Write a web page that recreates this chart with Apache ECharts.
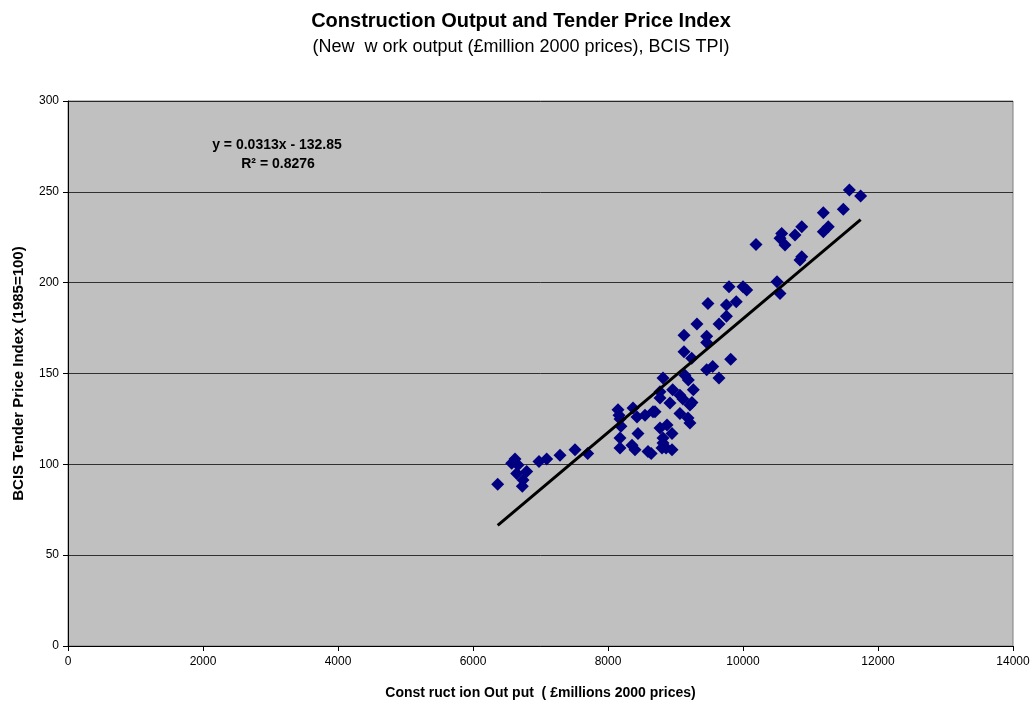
<!DOCTYPE html>
<html>
<head>
<meta charset="utf-8">
<script src="https://cdn.jsdelivr.net/npm/echarts@6/dist/echarts.min.js"></script>
<style>
html, body { margin: 0; padding: 0; background: #fff; }
#chart { width: 1035px; height: 704px; }
</style>
</head>
<body>
<div id="chart"></div>
<script>
// construction output (£m 2000 prices) vs BCIS TPI
const outputX = [
	6366, 6573, 6622, 6667, 6647, 6795, 6741, 6731, 6978, 7092, 7289, 7511, 7699,
	8148, 8163, 8178, 8192, 8178, 8178, 8356, 8400, 8370, 8430, 8444, 8548, 8593,
	8667, 8696, 8770, 8770, 8770, 8800, 8815, 8815, 8874, 8918, 8948, 8948, 8958,
	9066, 9066, 9140, 9190, 9214, 9244, 9185, 9214, 9264, 8815, 8640, 8860, 9110,
	9126, 9126, 9240, 9318, 9462, 9462, 9462, 9551, 9644, 9645, 9755, 9481, 9755,
	9900, 9818, 9793, 10000, 10055,
	10193, 10504, 10548, 10548, 10573, 10622, 10770, 10870, 10844, 10870, 11190,
	11263, 11190, 11486, 11576, 11743
];
const tenderY = [
	89, 100.6, 103, 99.6, 95, 96, 91.4, 88, 101.5, 103, 105, 108, 106,
	130, 127, 125, 121, 114.5, 109, 110.5, 108, 131, 126, 117, 127, 107,
	129, 129, 140, 136.5, 120, 109, 111.7, 114.5, 121.7, 133.8, 117, 108, 141,
	138, 128, 149, 146.4, 132.7, 134, 125.5, 122.8, 141, 147.5, 106, 109, 136,
	171, 162, 158.4, 177.3, 170.5, 167, 152, 153.8, 147.5, 177.3, 181.5, 188.6, 187.7,
	189.5, 157.8, 197.8, 197.8, 196,
	221, 200.5, 194, 224.4, 227, 220.7, 226.3, 230.8, 212.5, 214.3, 228,
	230.8, 238.5, 240.4, 251, 247.7
];
const xTicks = [0, 2000, 4000, 6000, 8000, 10000, 12000, 14000];
const yTicks = [0, 50, 100, 150, 200, 250, 300];

// linear trend shown on the chart
const trendSlope = 0.0313;
const trendIntercept = -132.85;
const trendLabel = 'y = 0.0313x - 132.85';
const r2Label = 'R² = 0.8276';

const points = outputX.map((x, i) => [x, tenderY[i]]);
const xMin = Math.min.apply(null, outputX);
const xMax = Math.max.apply(null, outputX);
const trendLine = [
	[xMin, trendSlope * xMin + trendIntercept],
	[xMax, trendSlope * xMax + trendIntercept]
];

const font = 'Arial, "Liberation Sans", sans-serif';
const chart = echarts.init(document.getElementById('chart'));
chart.setOption({
	animation: false,
	backgroundColor: '#ffffff',
	textStyle: { fontFamily: font },
	title: {
		text: 'Construction Output and Tender Price Index',
		subtext: '(New  w ork output (£million 2000 prices), BCIS TPI)',
		left: 516,
		top: 6,
		textAlign: 'center',
		itemGap: 7,
		textStyle: { fontSize: 20, fontWeight: 'bold', color: '#000', fontFamily: font },
		subtextStyle: { fontSize: 18, color: '#000', fontFamily: font }
	},
	grid: {
		left: 68,
		right: 22,
		top: 101,
		bottom: 58,
		outerBoundsMode: 'none',
		containLabel: false,
		show: true,
		backgroundColor: '#c0c0c0',
		borderColor: '#808080',
		borderWidth: 1
	},
	xAxis: {
		type: 'value',
		min: xTicks[0],
		max: xTicks[xTicks.length - 1],
		interval: 2000,
		name: 'Const ruct ion Out put  ( £millions 2000 prices)',
		nameLocation: 'middle',
		nameGap: 40,
		nameTextStyle: { fontSize: 14, fontWeight: 'bold', color: '#000' },
		axisLine: { onZero: false, lineStyle: { color: '#000', width: 1 } },
		axisTick: { show: true, length: 5, lineStyle: { color: '#000' } },
		axisLabel: { fontSize: 12, color: '#000', margin: 10, formatter: (v) => String(v) },
		splitLine: { show: false }
	},
	yAxis: {
		type: 'value',
		min: yTicks[0],
		max: yTicks[yTicks.length - 1],
		interval: 50,
		name: 'BCIS Tender Price Index (1985=100)',
		nameLocation: 'middle',
		nameGap: 42,
		nameTextStyle: { fontSize: 15, fontWeight: 'bold', color: '#000' },
		axisLine: { onZero: false, lineStyle: { color: '#000', width: 1 } },
		axisTick: { show: true, length: 5, lineStyle: { color: '#000' } },
		axisLabel: { fontSize: 12, color: '#000', margin: 9, formatter: (v) => String(v) },
		splitLine: { show: true, lineStyle: { color: '#000', width: 1, opacity: 0.75 } }
	},
	graphic: [
		{
			type: 'text',
			x: 277,
			y: 138,
			style: { text: trendLabel, font: 'bold 14px ' + font, fill: '#000', align: 'center' }
		},
		{
			type: 'text',
			x: 278,
			y: 157,
			style: { text: r2Label, font: 'bold 14px ' + font, fill: '#000', align: 'center' }
		}
	],
	series: [
		{
			name: 'TPI',
			type: 'scatter',
			symbol: 'diamond',
			symbolSize: 13,
			data: points,
			itemStyle: { color: '#000080', opacity: 1 },
			z: 3
		},
		{
			name: 'Trend',
			type: 'line',
			data: trendLine,
			symbol: 'none',
			lineStyle: { color: '#000', width: 3 },
			z: 4
		}
	]
});
</script>
</body>
</html>
